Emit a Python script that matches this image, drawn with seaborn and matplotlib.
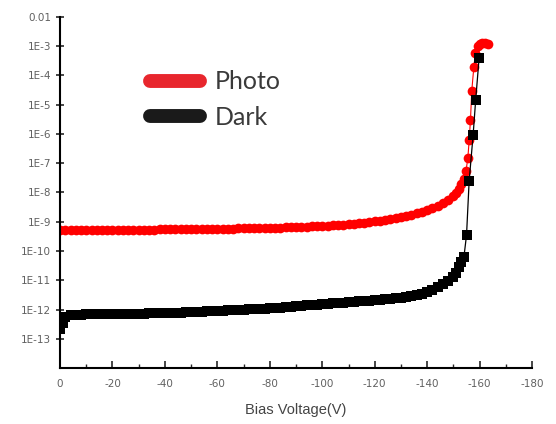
import numpy as np
import pandas as pd
import matplotlib
matplotlib.use("Agg")
import matplotlib.pyplot as plt
from matplotlib.lines import Line2D
from matplotlib.ticker import FixedLocator, FixedFormatter, MultipleLocator, LogLocator, NullFormatter
import seaborn as sns

sns.set_style("ticks")
plt.rcParams["font.family"] = ["DejaVu Sans"]
plt.rcParams["axes.unicode_minus"] = False

# photo current, bias in V, current in units of 1e-10 A
photo_v = [0, -2, -4, -6, -8, -10, -12, -14, -16, -18, -20, -22, -24, -26, -28, -30, -32, -34, -36, -38, -40,
           -42, -44, -46, -48, -50, -52, -54, -56, -58, -60, -62, -64, -66, -68, -70, -72, -74, -76, -78, -80,
           -82, -84, -86, -88, -90, -92, -94, -96, -98, -100,
           -102, -104, -106, -108, -110, -112, -114, -116, -118, -120,
           -122, -124, -126, -128, -130, -132, -134, -136, -138, -140,
           -142, -144, -146, -148, -150,
           -151, -152, -153, -154, -154.8, -155.5, -156, -156.5, -157, -157.8, -158.4, -159.2, -160, -161, -162, -163]
photo_i = [5.2, 5.2, 5.2, 5.2, 5.2, 5.3, 5.3, 5.3, 5.3, 5.3, 5.3, 5.3, 5.4, 5.4, 5.4, 5.4, 5.4, 5.4, 5.4, 5.5, 5.5,
           5.5, 5.5, 5.5, 5.6, 5.6, 5.6, 5.6, 5.7, 5.7, 5.7, 5.8, 5.8, 5.8, 5.9, 5.9, 6.0, 6.0, 6.1, 6.1, 6.2,
           6.3, 6.3, 6.4, 6.5, 6.6, 6.7, 6.8, 6.9, 7.0, 7.2,
           7.4, 7.6, 7.8, 8.0, 8.3, 8.6, 9.0, 9.4, 9.8, 10.3,
           10.9, 11.6, 12.4, 13.3, 14.4, 15.7, 17.3, 19.3, 21.8, 25.0,
           29, 35, 43, 56, 76,
           95, 130, 200, 300, 550, 1500, 6000, 3e4, 3e5, 2e6, 6e6, 1e7, 1.2e7, 1.25e7, 1.25e7, 1.2e7]

# dark current, bias in V, current in units of 1e-13 A
dark_v = [0, -1, -2, -4, -6, -8,
          -10, -12, -14, -16, -18, -20, -22, -24, -26, -28, -30, -32, -34, -36, -38, -40,
          -42, -44, -46, -48, -50, -52, -54, -56, -58, -60, -62, -64, -66, -68, -70, -72, -74, -76, -78, -80,
          -82, -84, -86, -88, -90, -92, -94, -96, -98, -100,
          -102, -104, -106, -108, -110, -112, -114, -116, -118, -120,
          -122, -124, -126, -128, -130, -132, -134, -136, -138, -140,
          -142, -144, -146, -148, -150,
          -151, -152, -153, -154, -155, -156, -157.5, -158.5, -159.8]
dark_i = [2.2, 3.5, 5.5, 6.3, 6.6, 6.7,
          6.8, 6.8, 6.9, 6.9, 7.0, 7.0, 7.1, 7.1, 7.2, 7.2, 7.3, 7.3, 7.4, 7.4, 7.5, 7.6,
          7.7, 7.8, 7.9, 8.0, 8.2, 8.3, 8.5, 8.6, 8.8, 9.0, 9.1, 9.3, 9.5, 9.7, 9.9, 10.1, 10.3, 10.5, 10.8, 11.0,
          11.3, 11.6, 12.0, 12.4, 12.8, 13.3, 13.8, 14.3, 14.8, 15.3,
          15.8, 16.3, 16.8, 17.3, 17.8, 18.4, 19.0, 19.6, 20.2, 20.8,
          21.5, 22.3, 23.2, 24.2, 25.4, 27, 29, 31.5, 35, 40,
          47, 57, 72, 95, 130,
          180, 280, 420, 620, 3500, 2.5e5, 9e6, 1.5e8, 4e9]

series = ["Photo", "Dark"]
x_ticks = [0, -20, -40, -60, -80, -100, -120, -140, -160, -180]
y_ticks = [1e-13, 1e-12, 1e-11, 1e-10, 1e-9, 1e-8, 1e-7, 1e-6, 1e-5, 1e-4, 1e-3, 1e-2]
y_labels = ["1E-13", "1E-12", "1E-11", "1E-10", "1E-9", "1E-8", "1E-7", "1E-6", "1E-5", "1E-4", "1E-3", "0.01"]

photo = pd.DataFrame({"V": photo_v, "I": np.array(photo_i) * 1e-10})
dark = pd.DataFrame({"V": dark_v, "I": np.array(dark_i) * 1e-13})

fig, ax = plt.subplots(figsize=(5.56, 4.24), dpi=100)
fig.subplots_adjust(left=0.108, right=0.957, top=0.96, bottom=0.132)

sns.lineplot(data=photo, x="V", y="I", ax=ax, color="#ff0000", lw=0.8, marker="o",
             markersize=7, markeredgewidth=0, estimator=None, sort=False, legend=False)
sns.lineplot(data=dark, x="V", y="I", ax=ax, color="black", lw=0.9, marker="s",
             markersize=6.5, markeredgewidth=0, estimator=None, sort=False, legend=False)

ax.set_yscale("log")
ax.set_xlim(0, -180)
ax.set_ylim(1e-14, 1e-2)

ax.xaxis.set_major_locator(FixedLocator(x_ticks))
ax.xaxis.set_minor_locator(MultipleLocator(10))
ax.yaxis.set_major_locator(FixedLocator(y_ticks))
ax.yaxis.set_major_formatter(FixedFormatter(y_labels))
ax.yaxis.set_minor_locator(LogLocator(base=10, subs=np.arange(2, 10)))
ax.yaxis.set_minor_formatter(NullFormatter())

for s in ["top", "right"]:
    ax.spines[s].set_visible(False)
for s in ["left", "bottom"]:
    ax.spines[s].set_linewidth(1.5)
    ax.spines[s].set_color("black")

ax.tick_params(axis="x", which="major", direction="in", length=5, width=1.2, labelsize=7.5, labelcolor="#606060", pad=8)
ax.tick_params(axis="x", which="minor", direction="in", length=3, width=1)
ax.tick_params(axis="y", which="major", direction="inout", length=6, width=1.2, labelsize=7.5, labelcolor="#606060")
ax.tick_params(axis="y", which="minor", direction="in", length=3, width=0.8)

ax.set_xlabel("Bias Voltage(V)", fontsize=10.5, color="#444444", labelpad=10,
              family=["Liberation Sans", "DejaVu Sans"])
ax.set_ylabel("")

handles = [Line2D([], [], color="#e8262d", lw=10, solid_capstyle="round"),
           Line2D([], [], color="#1a1a1a", lw=10, solid_capstyle="round")]
leg = ax.legend(handles, series, loc="upper left", bbox_to_anchor=(0.143, 0.912), frameon=False,
                handlelength=2.0, handletextpad=0.6, labelspacing=0.5,
                prop={"family": ["Lato", "DejaVu Sans"], "size": 18})
for t in leg.get_texts():
    t.set_color("#3a3a3a")

fig.savefig("out.png", dpi=100)
